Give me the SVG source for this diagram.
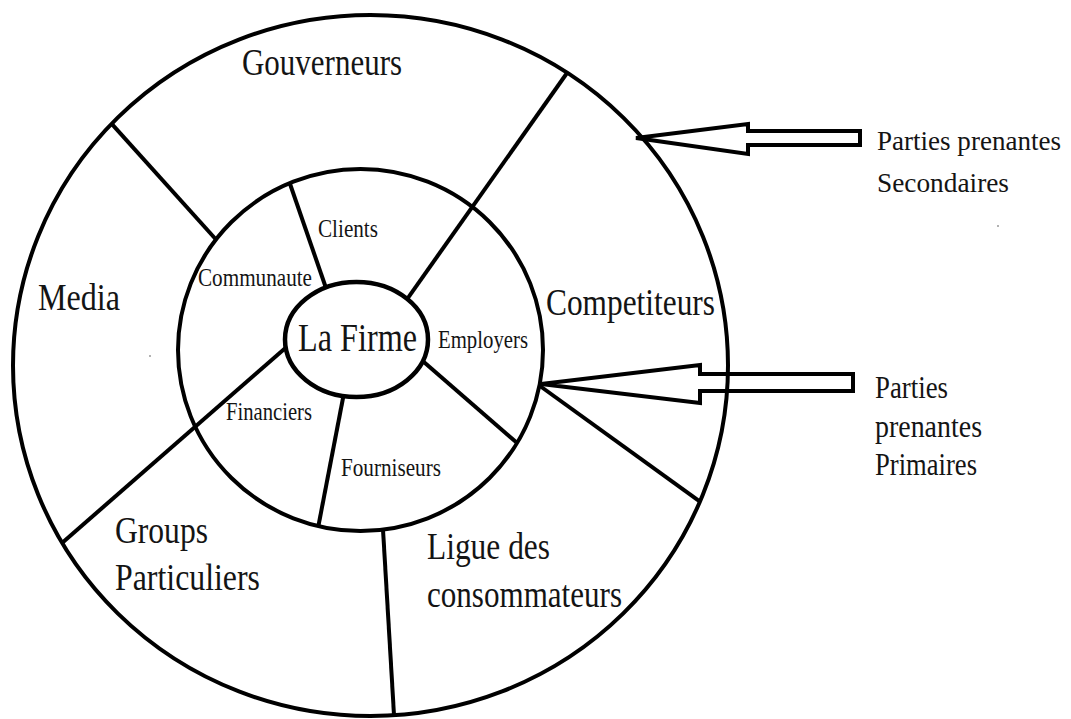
<svg xmlns="http://www.w3.org/2000/svg" width="1071" height="719" viewBox="0 0 1071 719">
  <style>
    .ring { fill: none; stroke: #000; stroke-width: 4; }
    .core { fill: #fff; stroke: #000; stroke-width: 4.5; }
    .div { stroke: #000; stroke-width: 4; stroke-linecap: butt; fill: none; }
    .arrow { fill: #fff; stroke: #000; stroke-width: 4; stroke-linejoin: miter; }
    .t { font-family: "Liberation Serif", "Times New Roman", serif; fill: #141414; }
    .big { font-size: 37px; }
    .small { font-size: 25px; }
  </style>
  <rect width="1071" height="719" fill="#fff"/>

  <!-- block arrows pointing at the two rings -->
  <g id="connectors-arrows">
    <path class="arrow" d="M636,138 L748,124 L748,131 L860,131 L860,145 L748,145 L748,154 Z"/>
    <path class="arrow" d="M541,384 L700,365 L700,374 L853,374 L853,391 L700,391 L700,403 Z"/>
  </g>

  <!-- rings -->
  <g id="ring-secondary">
    <ellipse class="ring" cx="370.5" cy="365.5" rx="357.5" ry="350.5"/>
  </g>
  <g id="ring-primary">
    <ellipse class="ring" cx="360.5" cy="350" rx="182.5" ry="181"/>
  </g>

  <!-- sector dividers -->
  <g id="connectors">
    <line class="div" x1="326" y1="288" x2="289.7" y2="183"/>
    <line class="div" x1="407.3" y1="298.8" x2="567" y2="73"/>
    <line class="div" x1="422.7" y1="361" x2="516" y2="442"/>
    <line class="div" x1="343.5" y1="395.5" x2="318.3" y2="526.5"/>
    <line class="div" x1="286" y1="347.5" x2="62" y2="543"/>
    <line class="div" x1="111.5" y1="123.7" x2="216" y2="239.5"/>
    <line class="div" x1="540" y1="386" x2="700" y2="501.6"/>
    <line class="div" x1="383" y1="529.5" x2="394" y2="715"/>
  </g>

  <!-- centre -->
  <g id="node-firme">
    <ellipse class="core" cx="356.5" cy="339.5" rx="71.5" ry="57.5"/>
    <text class="t" x="298" y="351" font-size="39" textLength="119" lengthAdjust="spacingAndGlyphs">La Firme</text>
  </g>

  <!-- primary stakeholders -->
  <g id="node-clients">
    <text class="t small" x="318" y="237" textLength="60" lengthAdjust="spacingAndGlyphs">Clients</text>
  </g>
  <g id="node-communaute">
    <text class="t small" x="198" y="286" font-size="24" textLength="114" lengthAdjust="spacingAndGlyphs">Communaute</text>
  </g>
  <g id="node-employers">
    <text class="t small" x="438" y="348" font-size="24" textLength="90" lengthAdjust="spacingAndGlyphs">Employers</text>
  </g>
  <g id="node-financiers">
    <text class="t small" x="226" y="420" textLength="86" lengthAdjust="spacingAndGlyphs">Financiers</text>
  </g>
  <g id="node-fourniseurs">
    <text class="t" x="341" y="476" font-size="26" textLength="100" lengthAdjust="spacingAndGlyphs">Fourniseurs</text>
  </g>

  <!-- secondary stakeholders -->
  <g id="node-gouverneurs">
    <text class="t big" x="242" y="75" textLength="160" lengthAdjust="spacingAndGlyphs">Gouverneurs</text>
  </g>
  <g id="node-media">
    <text class="t big" x="38" y="310" textLength="82" lengthAdjust="spacingAndGlyphs">Media</text>
  </g>
  <g id="node-competiteurs">
    <text class="t big" x="546" y="315" font-size="39" textLength="169" lengthAdjust="spacingAndGlyphs">Competiteurs</text>
  </g>
  <g id="node-groups">
    <text class="t big" x="115" y="543" textLength="93" lengthAdjust="spacingAndGlyphs">Groups</text>
    <text class="t big" x="115" y="590" textLength="145" lengthAdjust="spacingAndGlyphs">Particuliers</text>
  </g>
  <g id="node-ligue">
    <text class="t big" x="427" y="559" textLength="123" lengthAdjust="spacingAndGlyphs">Ligue des</text>
    <text class="t big" x="427" y="607" textLength="195" lengthAdjust="spacingAndGlyphs">consommateurs</text>
  </g>

  <!-- legend labels -->
  <g id="label-secondaires">
    <text class="t" x="877" y="150" font-size="28" textLength="184" lengthAdjust="spacingAndGlyphs">Parties prenantes</text>
    <text class="t" x="877" y="192" font-size="28" textLength="132" lengthAdjust="spacingAndGlyphs">Secondaires</text>
  </g>
  <g id="label-primaires">
    <text class="t" x="875" y="398" font-size="31" textLength="73" lengthAdjust="spacingAndGlyphs">Parties</text>
    <text class="t" x="875" y="437" font-size="31" textLength="107" lengthAdjust="spacingAndGlyphs">prenantes</text>
    <text class="t" x="875" y="475" font-size="31" textLength="102" lengthAdjust="spacingAndGlyphs">Primaires</text>
  </g>

  <!-- stray specks -->
  <circle cx="150" cy="356" r="1" fill="#999"/>
  <circle cx="998" cy="226" r="1" fill="#999"/>
</svg>
